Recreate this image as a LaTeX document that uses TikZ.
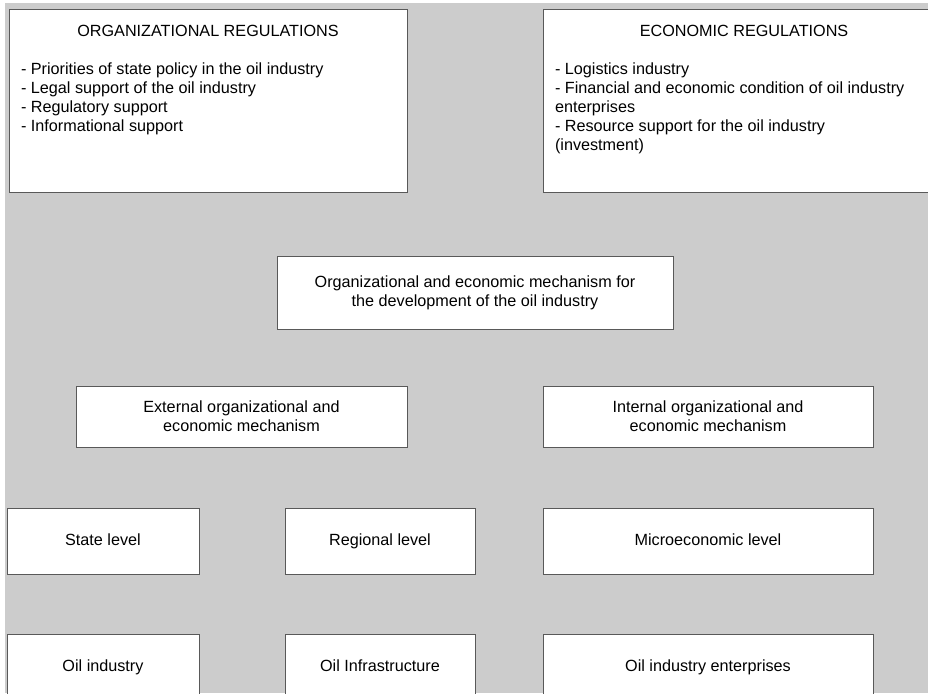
\documentclass[tikz,border=0pt]{standalone}
\usepackage{fontspec}
\setmainfont{Liberation Sans}
\usepackage{tikz}

\definecolor{bggray}{HTML}{CCCCCC}
\tikzset{
  blk/.style={draw=black!65, fill=white, line width=0.7pt, inner sep=0pt, align=center},
  lvl/.style={blk, minimum height=66pt, text height=11.5pt, text depth=3.5pt},
}

\begin{document}
\begin{tikzpicture}[x=1pt,y=-1pt,font=\fontsize{16.2}{19}\selectfont]
  \clip (0,0) rectangle (928,693);
  \fill[white] (0,0) rectangle (928,693);
  \fill[bggray] (5,3) rectangle (928,693);
  % regulations
  \node[blk, minimum width=398pt, minimum height=183pt] (orgreg) at (208,100.5)
    {\parbox[t][151pt][t]{374pt}{\centering ORGANIZATIONAL REGULATIONS\par\vspace{19pt}\raggedright
      - Priorities of state policy in the oil industry\\
      - Legal support of the oil industry\\
      - Regulatory support\\
      - Informational support}};
  \node[blk, minimum width=402pt, minimum height=183pt] (ecoreg) at (744,100.5)
    {\parbox[t][151pt][t]{378pt}{\centering ECONOMIC REGULATIONS\par\vspace{19pt}\raggedright
      - Logistics industry\\
      - Financial and economic condition of oil industry\\
      enterprises\\
      - Resource support for the oil industry\\
      (investment)}};
  % mechanism
  \node[blk, minimum width=396pt, minimum height=73pt] (mech) at (475,292.5)
    {Organizational and economic mechanism for\\the development of the oil industry};
  \node[blk, minimum width=331pt, minimum height=61pt] (ext) at (241.5,416.5)
    {External organizational and\\economic mechanism};
  \node[blk, minimum width=330pt, minimum height=61pt] (int) at (708,416.5)
    {Internal organizational and\\economic mechanism};
  % levels
  \node[lvl, minimum width=192pt] (state) at (103,541) {State level};
  \node[lvl, minimum width=190pt] (region) at (380,541) {Regional level};
  \node[lvl, minimum width=330pt] (micro) at (708,541) {Microeconomic level};
  % objects
  \node[lvl, minimum width=192pt] (oilind) at (103,667) {Oil industry};
  \node[lvl, minimum width=190pt] (oilinfra) at (380,667) {Oil Infrastructure};
  \node[lvl, minimum width=330pt] (oilent) at (708,667) {Oil industry enterprises};
\end{tikzpicture}
\end{document}
